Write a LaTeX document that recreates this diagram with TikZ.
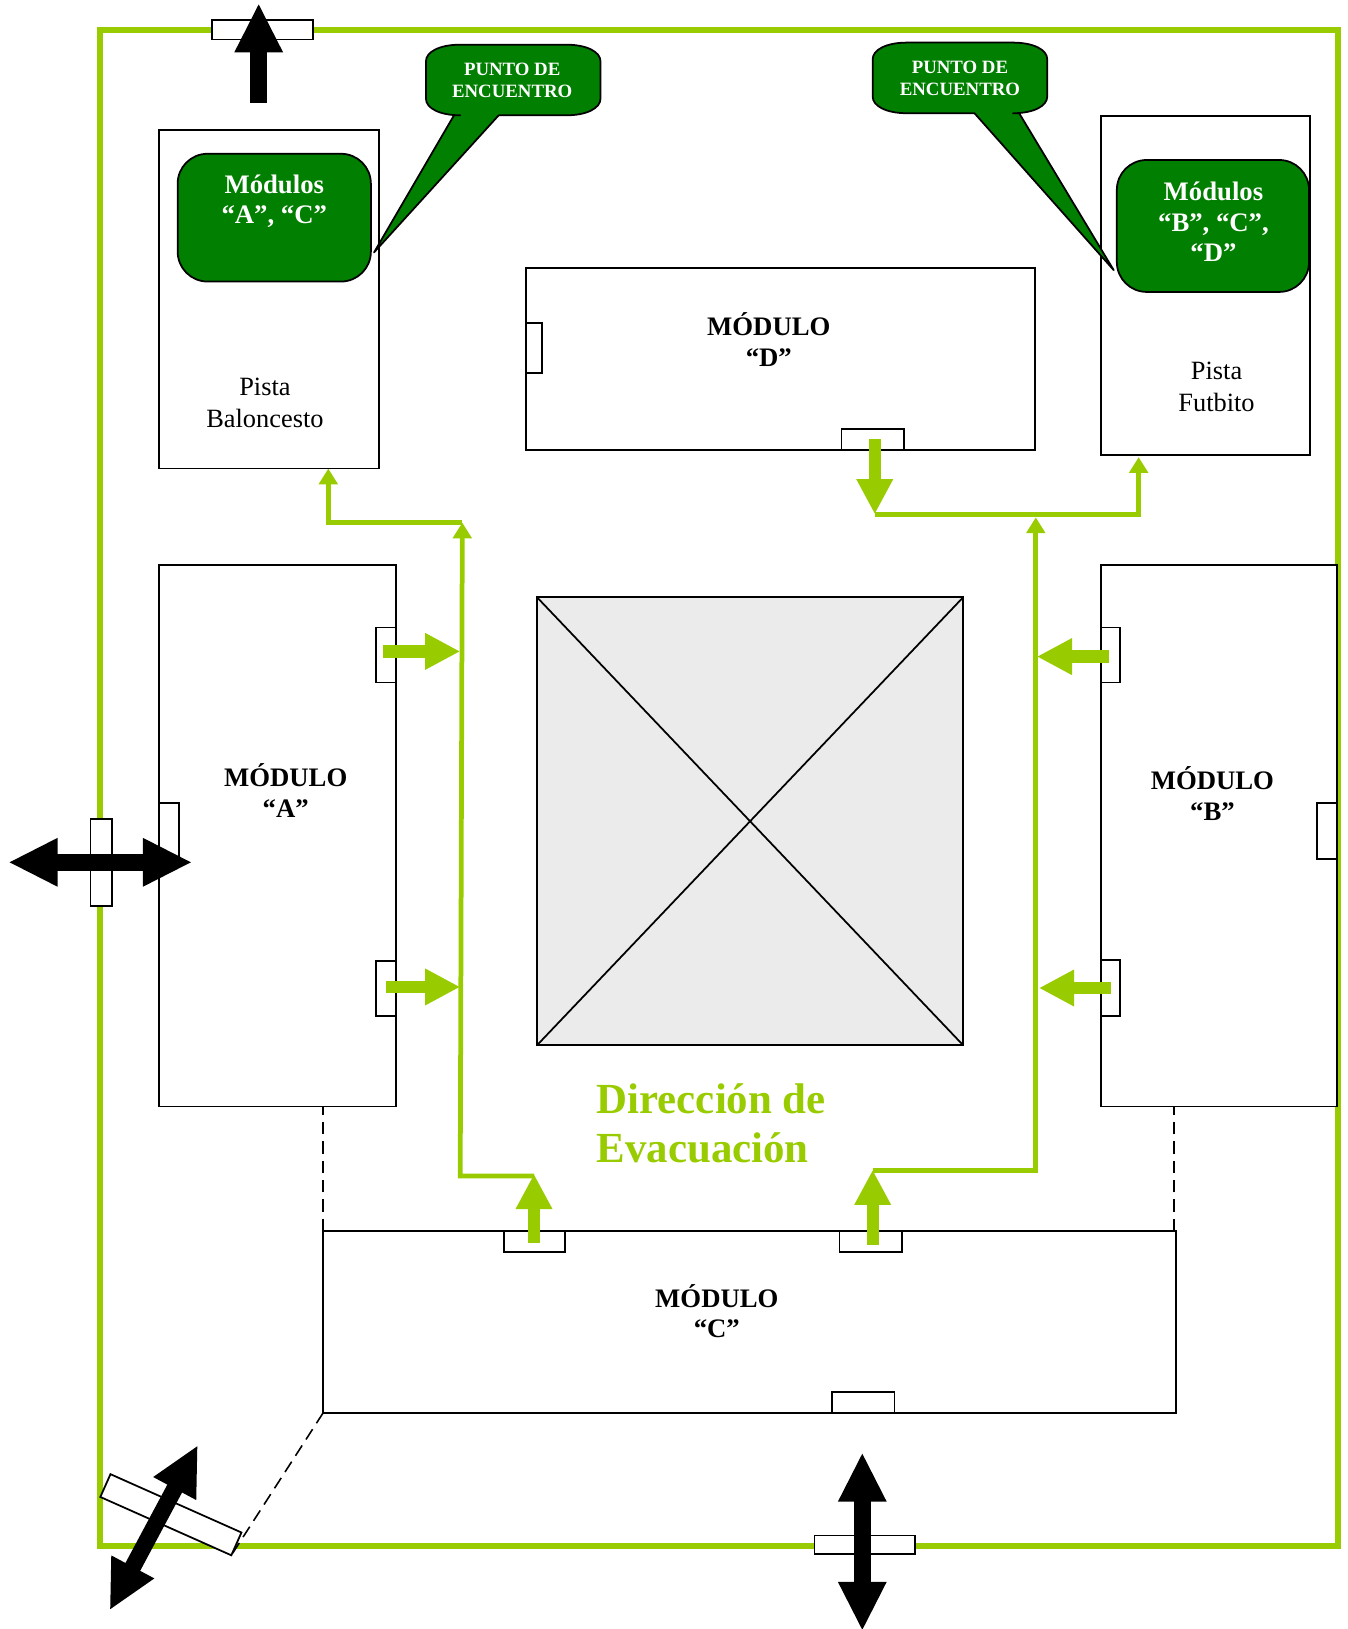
\documentclass[tikz,border=0pt]{standalone}
\usepackage{fontspec}
\setmainfont{Liberation Serif}
\usepackage{xcolor}
\usepackage{tikz}
\usetikzlibrary{positioning, arrows.meta}

\definecolor{routegreen}{HTML}{99CC00}
\definecolor{pointgreen}{HTML}{007F00}
\newcommand{\unitpx}{0.02077cm}

\begin{document}
\begin{tikzpicture}[
    x=0.02077cm, y=-0.02077cm,
    bigtip/.tip={Triangle[length=28pt, width=25.5pt]},
    routetip/.tip={Triangle[length=20pt, width=19.5pt]},
    smalltip/.tip={Triangle[length=9pt, width=10.5pt]},
    sized/.style 2 args={minimum width=#1*\unitpx, minimum height=#2*\unitpx, anchor=north west, inner sep=0pt, outer sep=0pt},
    room/.style 2 args={sized={#1}{#2}, rectangle, draw, fill=white, line width=1pt},
    patio/.style 2 args={sized={#1}{#2}, rectangle, draw, fill=black!8, line width=1pt},
    door/.style 2 args={sized={#1}{#2}, rectangle, draw, fill=white, line width=1pt},
    meetbox/.style 2 args={sized={#1}{#2}, rectangle, draw, fill=pointgreen, rounded corners=17pt, line width=1pt},
    callout/.style={draw, fill=pointgreen, line width=1pt, line join=round},
    roomlabel/.style={align=center, font=\fontsize{15.2}{17.5}\selectfont\bfseries},
    meetlabel/.style={align=center, text=white, font=\fontsize{15.2}{17.2}\selectfont\bfseries},
    calloutlabel/.style={align=center, text=white, font=\fontsize{10.7}{12.5}\selectfont\bfseries},
    courtlabel/.style={align=center, font=\fontsize{15}{18}\selectfont},
    titlelabel/.style={align=left, anchor=west, inner sep=0pt, text=routegreen, font=\fontsize{24.4}{27.8}\selectfont\bfseries},
    fence/.style={draw=routegreen, line width=3.3pt},
    flow/.style={draw=routegreen, line width=2.7pt, -{smalltip[fill=routegreen]}},
    routearrow/.style={draw=routegreen, line width=7pt, -{routetip[fill=routegreen]}},
    exitarrow/.style={line width=9.5pt, -{bigtip}},
    exitboth/.style={line width=9.5pt, {bigtip}-{bigtip}},
    link/.style={dashed, line width=0.9pt, dash pattern=on 7pt off 4pt}
]
\useasboundingbox (0,0) rectangle (1297,1568);

% Fence
\node[sized={1191.5}{1459}, fence, rectangle] (fence) at (96,29) {};

% Rooms
\node[room={212}{326}] (pistaB) at (153,125) {};
\node[room={201}{326}] (pistaF) at (1060,112) {};
\node[room={490}{175}] (modD) at (506,258) {};
\node[room={228}{521}] (modA) at (153,544) {};
\node[room={227}{521}] (modB) at (1060,544) {};
\node[room={821}{175}] (modC) at (311,1185) {};

% Patio
\node[patio={410}{431}] (patio) at (517,575) {};
\draw[line width=1pt] (patio.north west) -- (patio.south east);
\draw[line width=1pt] (patio.north east) -- (patio.south west);

% Doors
\node[door={97}{19}] (gateN) at (204,19) {};
\node[door={21}{84}] (gateW) at (87,788) {};
\node[door={97}{18}] (gateS) at (784,1478) {};
\node[sized={138}{24}, rectangle, draw, fill=white, line width=1pt, anchor=center, rotate=-24] (gateSW) at (164.5,1458) {};

\node[door={16}{48}] (doorD1) at (506,311) {};
\node[door={60}{20}] (doorD2) at (810,413) {};
\node[door={19}{53}] (doorA1) at (362,604) {};
\node[door={19}{53}] (doorA2) at (362,925) {};
\node[door={19}{54}] (doorA3) at (153,773) {};
\node[door={18}{53}] (doorB1) at (1060,604) {};
\node[door={18}{54}] (doorB2) at (1060,924) {};
\node[door={19}{54}] (doorB3) at (1268,773) {};
\node[door={59}{20}] (doorC1) at (485,1185) {};
\node[door={60}{20}] (doorC2) at (808,1185) {};
\node[door={60}{20}] (doorC3) at (801,1340) {};

% Dashed links
\draw[link] (modC.north west) -- (modC.north west |- modA.south);
\draw[link] ([xshift=-2*\unitpx]modC.north east) -- ([xshift=-2*\unitpx]modC.north east |- modB.south);
\draw[link] (modC.south west) -- (gateSW.south east);

% Meeting points
\node[meetbox={186}{123}] (meetA) at (171,148) {};
\node[meetbox={185}{127}] (meetB) at (1075,154) {};
\node[meetlabel] (meetlabelA) at (264,193.5) {Módulos\\“A”, “C”};
\node[meetlabel] (meetlabelB) at (1168,213.5) {Módulos\\“B”, “C”,\\“D”};

\draw[callout] (437,111) -- (360,243) -- (480,111) -- (545,111) .. controls (565,111) and (578,104) .. (578,95) -- (578,59) .. controls (578,50) and (565,43) .. (545,43) -- (443,43) .. controls (423,43) and (410,50) .. (410,59) -- (410,95) .. controls (410,104) and (423,111) .. (443,111) -- cycle;
\draw[callout] (938,109) -- (1072,260) -- (981,109) -- (975,109) .. controls (995,109) and (1008,102) .. (1008,93) -- (1008,57) .. controls (1008,48) and (995,41) .. (975,41) -- (873,41) .. controls (853,41) and (840,48) .. (840,57) -- (840,93) .. controls (840,102) and (853,109) .. (873,109) -- cycle;
\node[calloutlabel] (calloutA) at (493,77.5) {PUNTO DE\\ENCUENTRO};
\node[calloutlabel] (calloutB) at (924,75.5) {PUNTO DE\\ENCUENTRO};

% Labels
\node[roomlabel] (labelD) at (740,327) {MÓDULO\\“D”};
\node[roomlabel] (labelA) at (275,761) {MÓDULO\\“A”};
\node[roomlabel] (labelB) at (1167,764) {MÓDULO\\“B”};
\node[roomlabel] (labelC) at (690,1262) {MÓDULO\\“C”};
\node[courtlabel] (labelPB) at (255,388) {Pista\\Baloncesto};
\node[courtlabel] (labelPF) at (1171,372.5) {Pista\\Futbito};
\node[titlelabel] (title) at (574,1081) {Dirección de\\Evacuación};

% Route ends
\coordinate (westA) at (443,627);
\coordinate (westB) at (443,950);
\coordinate (eastA) at (998,632);
\coordinate (eastB) at (1000,951);
\coordinate (cornerW) at (443,1132);
\coordinate (cornerE) at (997,1127);
\coordinate (topW) at (445,503);
\coordinate (topE) at (997,498);
\coordinate (bendW) at (316,503);
\coordinate (bendE) at (1096,495);
\coordinate (footC1) at (514,1132);
\coordinate (footC2) at (840,1127);
\coordinate (footD) at (842,495);

% Routes
\draw[flow] (footC1) -- (cornerW) -- (topW);
\draw[flow] (footC2) -- (cornerE) -- (topE);
\draw[flow] (topW) -- (bendW) -- (bendW |- pistaB.south);
\draw[flow] (footD) -- (bendE) -- ([yshift=-2*\unitpx]bendE |- pistaF.south);

\draw[routearrow] ([xshift=-3*\unitpx]doorA1.center |- westA) -- (westA);
\draw[routearrow] (doorA2.center |- westB) -- (westB);
\draw[routearrow] ([xshift=-2*\unitpx]doorB1.center |- eastA) -- (eastA);
\draw[routearrow] (doorB2.center |- eastB) -- (eastB);
\draw[routearrow] ([yshift=-1*\unitpx]doorC1.center -| footC1) -- ([yshift=2*\unitpx]footC1);
\draw[routearrow] ([yshift=-3*\unitpx]doorC2.center -| footC2) -- ([yshift=1*\unitpx]footC2);
\draw[routearrow] (doorD2.center -| footD) -- (footD);

% Exits
\coordinate (exitN) at (249,99);
\coordinate (exitNtip) at (249,3);
\coordinate (exitWa) at (8,830);
\coordinate (exitWb) at (185,830);
\coordinate (exitSa) at (830,1398);
\coordinate (exitSb) at (830,1570);
\coordinate (exitSWa) at (105.5,1550);
\coordinate (exitSWb) at (190.5,1391);

\draw[exitarrow] (exitN) -- (exitNtip);
\draw[exitboth] (exitWa) -- (exitWb);
\draw[exitboth] (exitSa) -- (exitSb);
\draw[exitboth] (exitSWa) -- (exitSWb);

\end{tikzpicture}
\end{document}
